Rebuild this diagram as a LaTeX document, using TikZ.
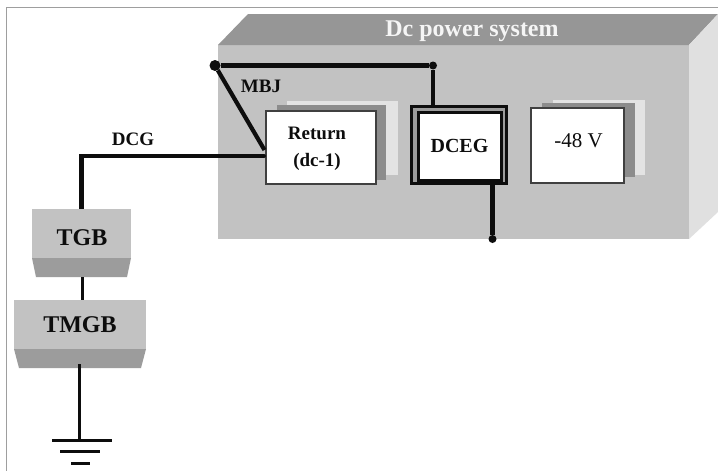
\documentclass[tikz,border=0pt]{standalone}
\usepackage{fontspec}
\setmainfont{Liberation Serif}
\usetikzlibrary{calc}
\definecolor{facegray}{gray}{0.76}
\definecolor{topgray}{gray}{0.59}
\definecolor{sidegray}{gray}{0.88}
\definecolor{shadowgray}{gray}{0.50}
\definecolor{backgray}{gray}{0.89}
\definecolor{inkblack}{gray}{0.05}
\definecolor{framegray}{gray}{0.62}
\definecolor{lipgray}{gray}{0.61}
\tikzset{
  x=1pt,y=-1pt,
  every node/.style={inner sep=0pt,outer sep=0pt,text=inkblack},
  boxnode/.style={fill=white,draw=black!75,line width=2pt,anchor=north west},
  label text/.style={font=\bfseries\fontsize{19}{27}\selectfont,align=center},
  bar text/.style={font=\bfseries\fontsize{24}{26}\selectfont},
  wire/.style={line width=4.2pt,draw=inkblack},
  thin wire/.style={line width=3pt,draw=inkblack},
  bar wire/.style={line width=3pt,draw=inkblack},
  dot/.style={circle,fill=inkblack,minimum size=#1},
  bar face/.style={fill=facegray,draw=none,anchor=north west},
  bar lip/.style={fill=lipgray,draw=none}
}
\begin{document}
\begin{tikzpicture}
\useasboundingbox (0,0) rectangle (718,471);
\fill[white] (0,0) rectangle (718,471);
% page frame
\draw[framegray,line width=1.2pt] (6.5,471) -- (6.5,7.5) -- (718,7.5);
% housing
\fill[facegray] (218,45) rectangle (689,239);
\fill[topgray] (218,45) -- (248,14) -- (718,14) -- (689,45) -- cycle;
\fill[sidegray] (689,45) -- (718,14) -- (718,212) -- (689,239) -- cycle;
\node[font=\bfseries\fontsize{24}{26}\selectfont,text=white!96!black] (title) at (472,31) {Dc power system};
% stacked sheets
\fill[backgray] (287,101) rectangle (398,175);
\fill[shadowgray!90] (277,105) rectangle (386,180);
\fill[backgray] (553,100) rectangle (645,175);
\fill[shadowgray!90] (542,103) rectangle (635,177);
% boxes
\node[boxnode,minimum width=110pt,minimum height=73pt] (ret) at (265.5,110.5) {};
\node[label text] (rettxt) at (317,148.5) {Return\\(dc-1)};
\node[anchor=north west,minimum width=95pt,minimum height=77pt,draw=inkblack,line width=3pt,fill=lipgray] (dcegouter) at (411.5,106.5) {};
\node[anchor=north west,minimum width=83pt,minimum height=68pt,draw=inkblack,line width=3pt,fill=white,font=\bfseries\fontsize{20}{22}\selectfont] (dceg) at (418,112) {DCEG};
\node[boxnode,minimum width=93pt,minimum height=75pt] (neg) at (530.5,107.5) {};
\node[font=\fontsize{21}{24}\selectfont] (negtxt) at (578.5,141) {-48 V};
% junctions
\node[dot=11pt] (mbjdot) at (215,65.5) {};
\node[dot=8pt] (topdot) at (433,65.5) {};
\node[dot=8pt] (lowdot) at (492.5,239) {};
\coordinate (retmbj) at (264.5,150);
\coordinate (retdcg) at (264,156);
\coordinate (dcgcorner) at (81.5,156);
\node[dot=4pt] (retdot) at (retdcg) {};
% busbars
\node[bar face,minimum width=99pt,minimum height=49pt] (tgb) at (32,209) {};
\node[bar text] (tgbtxt) at (82,238) {TGB};
\fill[bar lip] (tgb.south west) -- (tgb.south east) -- (127,277) -- (36,277) -- cycle;
\coordinate (tgblip) at (82,277);
\node[bar face,minimum width=132pt,minimum height=49pt] (tmgb) at (14,300) {};
\node[bar text] (tmgbtxt) at (80,325) {TMGB};
\fill[bar lip] (tmgb.south west) -- (tmgb.south east) -- (141,368) -- (19,368) -- cycle;
\coordinate (tmgblip) at (79.5,364);
% ground
\coordinate (gnd1) at (79.5,440);
\coordinate (gnd1l) at (52,440);
\coordinate (gnd1r) at (112,440);
\coordinate (gnd2l) at (60,451.5);
\coordinate (gnd2r) at (100,451.5);
\coordinate (gnd3l) at (71,463);
\coordinate (gnd3r) at (90,463);
% wires
\draw[wire] (mbjdot) -- (topdot);
\draw[wire] (topdot) -- (topdot |- dcegouter.north);
\draw[wire] (mbjdot) -- (retmbj);
\draw[wire,line join=miter] (retdcg) -- (dcgcorner) -- (tgb.north -| dcgcorner);
\draw[thin wire] (tgblip) -- (tmgb.north -| tgblip);
\draw[thin wire] (tmgblip) -- (gnd1);
\draw[wire] (lowdot |- dcegouter.south) -- (lowdot);
\draw[bar wire] (gnd1l) -- (gnd1r);
\draw[bar wire] (gnd2l) -- (gnd2r);
\draw[bar wire] (gnd3l) -- (gnd3r);
% labels
\node[label text] (mbj) at (261,86) {MBJ};
\node[label text] (dcg) at (133,139) {DCG};
\end{tikzpicture}
\end{document}
